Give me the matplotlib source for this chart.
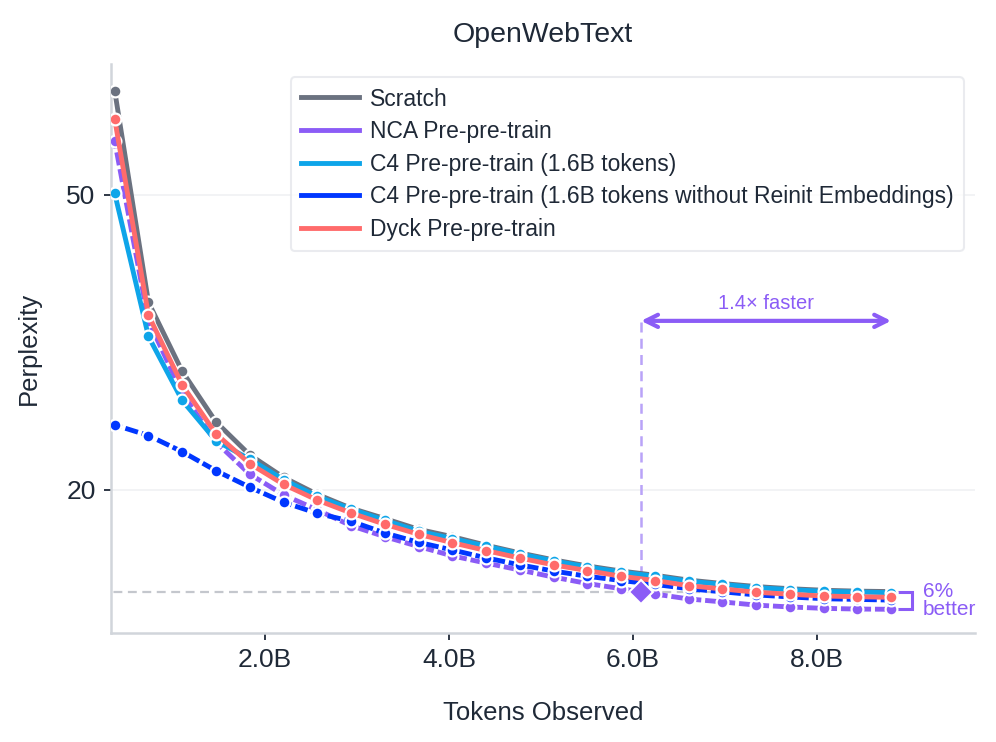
import matplotlib
matplotlib.use("Agg")
import matplotlib.pyplot as plt
from matplotlib.lines import Line2D
from matplotlib.ticker import FuncFormatter, NullLocator, FixedLocator

plt.rcParams['font.family'] = ['Liberation Sans', 'DejaVu Sans']

# данные (токены в миллиардах)
steps = list(range(1, 25))
tokens = [k * 0.367 for k in steps]

scratch = [69.0, 35.8, 28.9, 24.7, 22.3, 20.8, 19.73, 18.9, 18.3, 17.7, 17.3, 16.85,
           16.45, 16.1, 15.8, 15.55, 15.35, 15.12, 14.96, 14.82, 14.72, 14.65, 14.61, 14.59]
nca = [59.0, 33.8, 27.0, 23.2, 21.0, 19.7, 18.8, 17.9, 17.3, 16.78, 16.30, 15.94,
       15.60, 15.26, 14.96, 14.72, 14.48, 14.26, 14.13, 13.99, 13.91, 13.85, 13.82, 13.81]
c4 = [50.2, 32.2, 26.4, 23.3, 22.0, 20.65, 19.6, 18.85, 18.2, 17.6, 17.2, 16.8,
      16.4, 16.05, 15.75, 15.5, 15.3, 15.07, 14.92, 14.77, 14.68, 14.6, 14.57, 14.54]
c4_noreinit = [24.47, 23.68, 22.52, 21.23, 20.17, 19.25, 18.60, 18.15, 17.5, 17.0, 16.6, 16.2,
               15.85, 15.55, 15.3, 15.1, 14.92, 14.72, 14.58, 14.44, 14.35, 14.27, 14.24, 14.21]
dyck = [63.2, 34.4, 27.7, 23.8, 21.7, 20.35, 19.38, 18.62, 17.98, 17.43, 16.98, 16.57,
        16.19, 15.85, 15.57, 15.30, 15.10, 14.86, 14.71, 14.56, 14.47, 14.39, 14.36, 14.33]

labels = ['Scratch', 'NCA Pre-pre-train', 'C4 Pre-pre-train (1.6B tokens)',
          'C4 Pre-pre-train (1.6B tokens without Reinit Embeddings)', 'Dyck Pre-pre-train']
colors = ['#6b7280', '#8b5cf6', '#0ea5e9', '#0037ff', '#ff6b6b']

match_x = 6.09     # где NCA догоняет финальную перплексию Scratch
match_y = 14.59
arrow_y = 33.8

text_c = '#1f2937'

fig = plt.figure(figsize=(9.96, 7.42), dpi=100)
ax = fig.add_axes([0.1114, 0.1469, 0.8675, 0.7668])

ax.set_yscale('log')

series = [scratch, nca, c4, c4_noreinit, dyck]
dashed = [False, True, False, True, False]
for ys, col, d in zip(series, colors, dashed):
    ls = (1.2, (2.7, 0.8)) if d else '-'
    ax.plot(tokens, ys, color=col, lw=3.5, ls=ls, marker='o', ms=8.5,
            mfc=col, mec='white', mew=1.6, zorder=3)

# пунктир уровня Scratch
ax.plot([0.2, tokens[-1]], [match_y, match_y], color='#c4c7cd', lw=1.6, ls=(0, (4, 2.5)), zorder=1)
# вертикальный пунктир
ax.plot([match_x, match_x], [match_y, arrow_y], color='#b9a3f8', lw=1.8, ls=(0, (4, 2.5)), zorder=1)
ax.annotate('', xy=(tokens[-1], arrow_y), xytext=(match_x, arrow_y),
            arrowprops=dict(arrowstyle='<->', color='#8b5cf6', lw=3, mutation_scale=22,
                            shrinkA=0, shrinkB=0))
ax.text((match_x + tokens[-1]) / 2, arrow_y * 1.025, '1.4× faster', color='#8b5cf6',
        fontsize=14.5, ha='center', va='bottom')
ax.plot([match_x], [match_y], marker='D', ms=12, color='#8b5cf6', mec='white', mew=1.5, zorder=5)

# скобка "6% better"
bx = 9.03
ax.plot([tokens[-1], bx, bx, tokens[-1]], [scratch[-1], scratch[-1], nca[-1], nca[-1]],
        color='#8b5cf6', lw=2.2, zorder=2, solid_joinstyle='miter')
ax.text(bx + 0.12, (scratch[-1] * nca[-1]) ** 0.5, '6%\nbetter', color='#8b5cf6',
        fontsize=15, ha='left', va='center', linespacing=0.95)

ax.set_xlim(0.326, 9.72)
ax.set_ylim(12.83, 75)

ax.yaxis.set_major_locator(FixedLocator([20, 50]))
ax.yaxis.set_minor_locator(NullLocator())
ax.yaxis.set_major_formatter(FuncFormatter(lambda v, p: f'{v:.0f}'))
ax.xaxis.set_major_locator(FixedLocator([2, 4, 6, 8]))
ax.xaxis.set_major_formatter(FuncFormatter(lambda v, p: f'{v:.1f}B'))

ax.grid(axis='y', color='#f0f1f3', lw=1.2, zorder=0)
ax.set_axisbelow(True)

for s in ['top', 'right']:
    ax.spines[s].set_visible(False)
for s in ['left', 'bottom']:
    ax.spines[s].set_color('#d1d5db')
    ax.spines[s].set_linewidth(1.8)

ax.tick_params(axis='both', colors=text_c, labelsize=19, length=5, width=1.3, pad=6)

ax.set_xlabel('Tokens Observed', fontsize=18.5, color=text_c, labelpad=21)
ax.set_ylabel('Perplexity', fontsize=18.5, color=text_c, labelpad=18)
ax.set_title('OpenWebText', fontsize=20.5, color=text_c, pad=16)

handles = [Line2D([0], [0], color=c, lw=3.5) for c in colors]
leg = ax.legend(handles, labels, loc='upper right', bbox_to_anchor=(1.0, 0.997),
                fontsize=16.5, frameon=True, handlelength=2.55, handletextpad=0.45,
                labelspacing=0.42, borderpad=0.45, labelcolor=text_c)
leg.get_frame().set_edgecolor('#e5e7eb')
leg.get_frame().set_linewidth(1.5)

fig.savefig('out.png', dpi=100)
